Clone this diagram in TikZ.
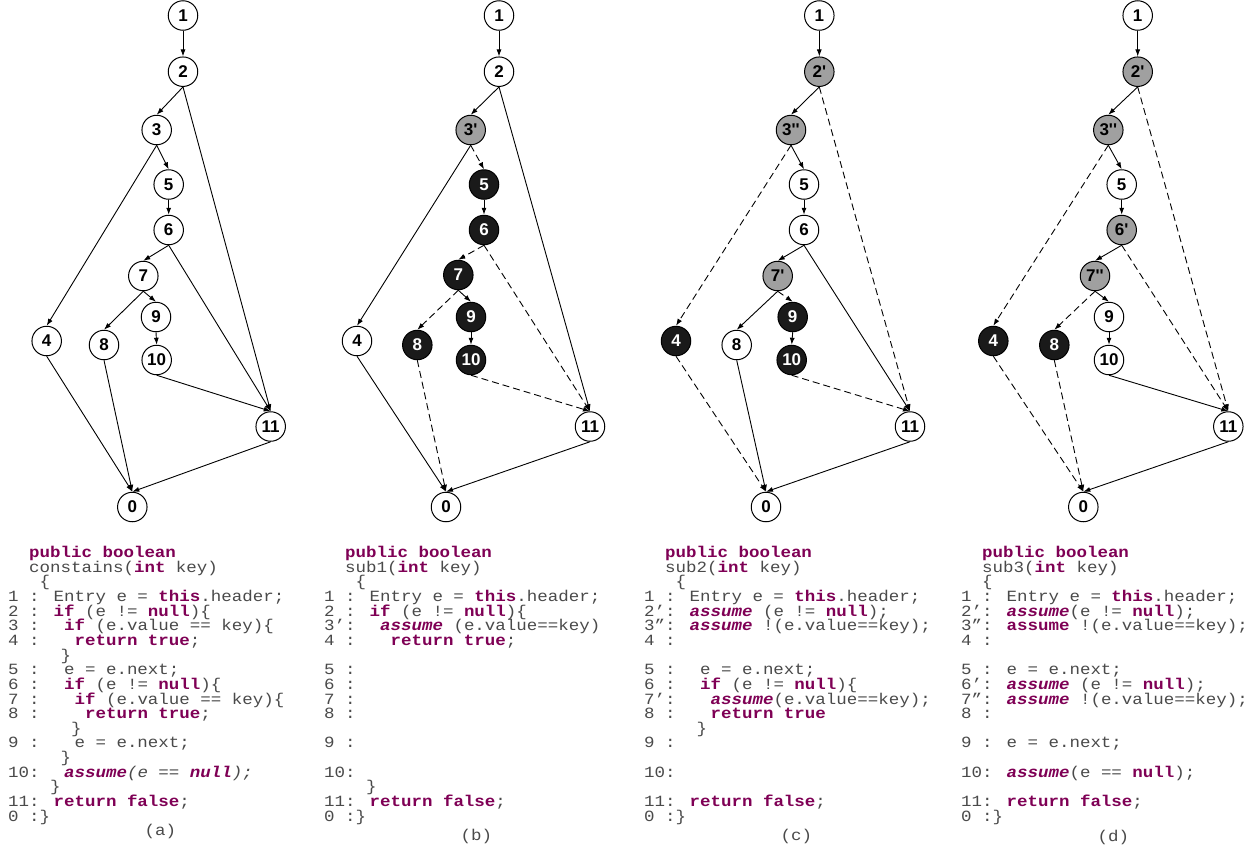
\documentclass[tikz,border=0pt]{standalone}
\usepackage{fontspec}
\usetikzlibrary{arrows.meta}
\newfontfamily\nodefont{Liberation Sans}
\newfontfamily\codefont{Liberation Mono}[FakeStretch=1.12]
\definecolor{kwpurple}{HTML}{7F0055}
\definecolor{codegray}{HTML}{4A4A4A}
\definecolor{nodegray}{HTML}{A0A0A0}
\definecolor{nodeblack}{HTML}{1A1A1A}
\newcommand\kw[1]{\textbf{\color{kwpurple}#1}}
\newcommand\kwi[1]{\textbf{\textit{\color{kwpurple}#1}}}
\newcommand\codeln[5]{\node[code] (#1) at ({#2+#3*10.5},{557.7+#4*14.63}) {#5};}
\tikzset{
  vtx/.style={circle, draw=black, line width=1pt, minimum size=29.5pt, inner sep=0pt,
    font=\nodefont\bfseries\fontsize{17}{17}\selectfont, fill=white, text=black},
  gry/.style={vtx, fill=nodegray},
  blk/.style={vtx, fill=nodeblack, text=white},
  arr/.style={-{Latex[length=7pt,width=5pt]}, line width=0.9pt},
  darr/.style={arr, dash pattern=on 7pt off 4pt},
  code/.style={anchor=base west, inner sep=0pt, text=codegray,
    font=\codefont\fontsize{15.6}{15.6}\selectfont},
}
\begin{document}
\begin{tikzpicture}[x=1pt,y=-1pt]
\fill[white] (0,0) rectangle (1256,849);
\useasboundingbox (0,0) rectangle (1256,849);

% ---------------- panel (a) ----------------
\node[vtx] (a1) at (183,15.5) {1};
\node[vtx] (a2) at (183,71.7) {2};
\node[vtx] (a3) at (156.7,130) {3};
\node[vtx] (a5) at (168.7,184.5) {5};
\node[vtx] (a6) at (168.7,230) {6};
\node[vtx] (a7) at (143.3,276) {7};
\node[vtx] (a9) at (156,317) {9};
\node[vtx] (a4) at (46.7,341) {4};
\node[vtx] (a8) at (104,345) {8};
\node[vtx] (a10) at (156.7,360) {10};
\node[vtx] (a11) at (270.7,426.5) {11};
\node[vtx] (a0) at (132.3,507) {0};
\draw[arr] (a1.south) -- (a2.north);
\draw[arr] (a2.south) -- (a3.north);
\draw[arr] (a2.south) -- (a11.north);
\draw[arr] (a3.south) -- (a5.north);
\draw[arr] (a3.south) -- (a4.north);
\draw[arr] (a5.south) -- (a6.north);
\draw[arr] (a6.south) -- (a7.north);
\draw[arr] (a6.south) -- (a11.north);
\draw[arr] (a7.south) -- (a8.north);
\draw[arr] (a7.south) -- (a9.north);
\draw[arr] (a9.south) -- (a10.north);
\draw[arr] (a10.south) -- (a11.north);
\draw[arr] (a4.south) -- (a0.north);
\draw[arr] (a8.south) -- (a0.north);
\draw[arr] (a11.south) -- (a0.north);

% ---------------- panel (b) ----------------
\node[vtx] (b1) at (499,15.5) {1};
\node[vtx] (b2) at (499,71.7) {2};
\node[gry] (b3) at (470.7,130) {3'};
\node[blk] (b5) at (484,184.5) {5};
\node[blk] (b6) at (484,230) {6};
\node[blk] (b7) at (458.3,275) {7};
\node[blk] (b9) at (471,317) {9};
\node[vtx] (b4) at (357,341) {4};
\node[blk] (b8) at (417.3,345) {8};
\node[blk] (b10) at (471,360) {10};
\node[vtx] (b11) at (590,426.5) {11};
\node[vtx] (b0) at (446,507) {0};
\draw[arr] (b1.south) -- (b2.north);
\draw[arr] (b2.south) -- (b3.north);
\draw[arr] (b2.south) -- (b11.north);
\draw[darr] (b3.south) -- (b5.north);
\draw[arr] (b3.south) -- (b4.north);
\draw[arr] (b5.south) -- (b6.north);
\draw[darr] (b6.south) -- (b7.north);
\draw[darr] (b6.south) -- (b11.north);
\draw[darr] (b7.south) -- (b8.north);
\draw[arr] (b7.south) -- (b9.north);
\draw[arr] (b9.south) -- (b10.north);
\draw[darr] (b10.south) -- (b11.north);
\draw[arr] (b4.south) -- (b0.north);
\draw[darr] (b8.south) -- (b0.north);
\draw[arr] (b11.south) -- (b0.north);

% ---------------- panel (c) ----------------
\node[vtx] (c1) at (819.3,15.5) {1};
\node[gry] (c2) at (819.3,71.7) {2'};
\node[gry] (c3) at (791,130) {3''};
\node[vtx] (c5) at (804,184.5) {5};
\node[vtx] (c6) at (804,230) {6};
\node[gry] (c7) at (777.7,276) {7'};
\node[blk] (c9) at (792.7,317) {9};
\node[blk] (c4) at (676,341) {4};
\node[vtx] (c8) at (736.7,345) {8};
\node[blk] (c10) at (791.7,360) {10};
\node[vtx] (c11) at (910,426.5) {11};
\node[vtx] (c0) at (766,507) {0};
\draw[arr] (c1.south) -- (c2.north);
\draw[arr] (c2.south) -- (c3.north);
\draw[darr] (c2.south) -- (c11.north);
\draw[arr] (c3.south) -- (c5.north);
\draw[darr] (c3.south) -- (c4.north);
\draw[arr] (c5.south) -- (c6.north);
\draw[arr] (c6.south) -- (c7.north);
\draw[arr] (c6.south) -- (c11.north);
\draw[arr] (c7.south) -- (c8.north);
\draw[darr] (c7.south) -- (c9.north);
\draw[arr] (c9.south) -- (c10.north);
\draw[darr] (c10.south) -- (c11.north);
\draw[darr] (c4.south) -- (c0.north);
\draw[arr] (c8.south) -- (c0.north);
\draw[arr] (c11.south) -- (c0.north);

% ---------------- panel (d) ----------------
\node[vtx] (d1) at (1137.7,15.5) {1};
\node[gry] (d2) at (1137.7,71.7) {2'};
\node[gry] (d3) at (1108.3,130) {3''};
\node[vtx] (d5) at (1121.7,184.5) {5};
\node[gry] (d6) at (1121.7,230) {6'};
\node[gry] (d7) at (1095,276) {7''};
\node[vtx] (d9) at (1109,317) {9};
\node[blk] (d4) at (993.3,341) {4};
\node[blk] (d8) at (1054.3,345) {8};
\node[vtx] (d10) at (1109,360) {10};
\node[vtx] (d11) at (1228.3,426.5) {11};
\node[vtx] (d0) at (1083.3,507) {0};
\draw[arr] (d1.south) -- (d2.north);
\draw[arr] (d2.south) -- (d3.north);
\draw[darr] (d2.south) -- (d11.north);
\draw[arr] (d3.south) -- (d5.north);
\draw[darr] (d3.south) -- (d4.north);
\draw[arr] (d5.south) -- (d6.north);
\draw[arr] (d6.south) -- (d7.north);
\draw[darr] (d6.south) -- (d11.north);
\draw[darr] (d7.south) -- (d8.north);
\draw[arr] (d7.south) -- (d9.north);
\draw[arr] (d9.south) -- (d10.north);
\draw[arr] (d10.south) -- (d11.north);
\draw[darr] (d4.south) -- (d0.north);
\draw[darr] (d8.south) -- (d0.north);
\draw[arr] (d11.south) -- (d0.north);

% ---------------- code (a) ----------------
\codeln{ta0}{8}{2}{0}{\kw{public boolean}}
\codeln{ta1}{8}{2}{1}{constains(\kw{int} key)}
\codeln{ta2}{8}{3}{2}{\{}
\codeln{ta3}{8}{0}{3}{1 : Entry e = \kw{this}.header;}
\codeln{ta4}{8}{0}{4}{2 : \kw{if} (e != \kw{null})\{}
\codeln{ta5}{8}{0}{5}{3 :~ \kw{if} (e.value == key)\{}
\codeln{ta6}{8}{0}{6}{4 :~~ \kw{return true};}
\codeln{ta7}{8}{5}{7}{\}}
\codeln{ta8}{8}{0}{8}{5 :~ e = e.next;}
\codeln{ta9}{8}{0}{9}{6 :~ \kw{if} (e != \kw{null})\{}
\codeln{ta10}{8}{0}{10}{7 :~~ \kw{if} (e.value == key)\{}
\codeln{ta11}{8}{0}{11}{8 :~~~ \kw{return true};}
\codeln{ta12}{8}{6}{12}{\}}
\codeln{ta13}{8}{0}{13}{9 :~~ e = e.next;}
\codeln{ta14}{8}{5}{14}{\}}
\codeln{ta15}{8}{0}{15}{10:~ \kwi{assume}\textit{(e == }\kwi{null}\textit{);}}
\codeln{ta16}{8}{4}{16}{\}}
\codeln{ta17}{8}{0}{17}{11: \kw{return false};}
\codeln{ta18}{8}{0}{18}{0 :\}}
\node[code] (la) at (8+13*10.5,835.7) {(a)};

% ---------------- code (b) ----------------
\codeln{tb0}{324}{2}{0}{\kw{public boolean}}
\codeln{tb1}{324}{2}{1}{sub1(\kw{int} key)}
\codeln{tb2}{324}{3}{2}{\{}
\codeln{tb3}{324}{0}{3}{1 : Entry e = \kw{this}.header;}
\codeln{tb4}{324}{0}{4}{2 : \kw{if} (e != \kw{null})\{}
\codeln{tb5}{324}{0}{5}{3’:~ \kwi{assume} (e.value==key)}
\codeln{tb6}{324}{0}{6}{4 :~~ \kw{return true};}
\codeln{tb8}{324}{0}{8}{5 :}
\codeln{tb9}{324}{0}{9}{6 :}
\codeln{tb10}{324}{0}{10}{7 :}
\codeln{tb11}{324}{0}{11}{8 :}
\codeln{tb13}{324}{0}{13}{9 :}
\codeln{tb15}{324}{0}{15}{10:}
\codeln{tb16}{324}{4}{16}{\}}
\codeln{tb17}{324}{0}{17}{11: \kw{return false};}
\codeln{tb18}{324}{0}{18}{0 :\}}
\node[code] (lb) at (324+13*10.5,840) {(b)};

% ---------------- code (c) ----------------
\codeln{tc0}{644}{2}{0}{\kw{public boolean}}
\codeln{tc1}{644}{2}{1}{sub2(\kw{int} key)}
\codeln{tc2}{644}{3}{2}{\{}
\codeln{tc3}{644}{0}{3}{1 : Entry e = \kw{this}.header;}
\codeln{tc4}{644}{0}{4}{2’: \kwi{assume} (e != \kw{null});}
\codeln{tc5}{644}{0}{5}{3”: \kwi{assume} !(e.value==key);}
\codeln{tc6}{644}{0}{6}{4 :}
\codeln{tc8}{644}{0}{8}{5 :~ e = e.next;}
\codeln{tc9}{644}{0}{9}{6 :~ \kw{if} (e != \kw{null})\{}
\codeln{tc10}{644}{0}{10}{7’:~~ \kwi{assume}(e.value==key);}
\codeln{tc11}{644}{0}{11}{8 :~~ \kw{return true}}
\codeln{tc12}{644}{5}{12}{\}}
\codeln{tc13}{644}{0}{13}{9 :}
\codeln{tc15}{644}{0}{15}{10:}
\codeln{tc17}{644}{0}{17}{11: \kw{return false};}
\codeln{tc18}{644}{0}{18}{0 :\}}
\node[code] (lc) at (644+13*10.5,840) {(c)};

% ---------------- code (d) ----------------
\codeln{td0}{961}{2}{0}{\kw{public boolean}}
\codeln{td1}{961}{2}{1}{sub3(\kw{int} key)}
\codeln{td2}{961}{2}{2}{\{}
\codeln{td3}{961}{0}{3}{1 : Entry e = \kw{this}.header;}
\codeln{td4}{961}{0}{4}{2’: \kwi{assume}(e != \kw{null});}
\codeln{td5}{961}{0}{5}{3”: \kw{assume} !(e.value==key);}
\codeln{td6}{961}{0}{6}{4 :}
\codeln{td8}{961}{0}{8}{5 : e = e.next;}
\codeln{td9}{961}{0}{9}{6’: \kwi{assume} (e != \kw{null});}
\codeln{td10}{961}{0}{10}{7”: \kwi{assume} !(e.value==key);}
\codeln{td11}{961}{0}{11}{8 :}
\codeln{td13}{961}{0}{13}{9 : e = e.next;}
\codeln{td15}{961}{0}{15}{10: \kwi{assume}(e == \kw{null});}
\codeln{td17}{961}{0}{17}{11: \kw{return false};}
\codeln{td18}{961}{0}{18}{0 :\}}
\node[code] (ld) at (961+13*10.5,841.7) {(d)};
\end{tikzpicture}
\end{document}
